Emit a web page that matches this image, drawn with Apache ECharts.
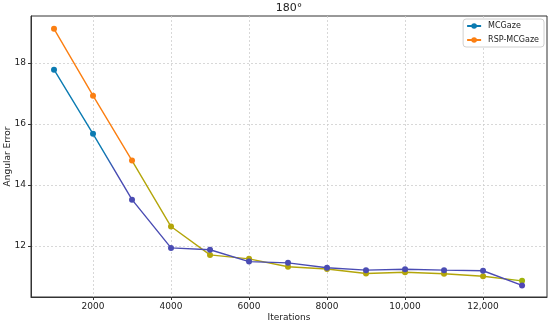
<!DOCTYPE html>
<html>
<head>
<meta charset="utf-8">
<script src="https://cdn.jsdelivr.net/npm/echarts@6/dist/echarts.min.js"></script>
<style>
  html, body { margin: 0; padding: 0; background: #fff; }
  #container { width: 550px; height: 325px; }
</style>
</head>
<body>
<div id="container"></div>
<script>
const iterations = [1000, 2000, 3000, 4000, 5000, 6000, 7000, 8000, 9000, 10000, 11000, 12000, 13000];
const mcgaze = [17.78, 15.68, 13.52, 11.94, 11.88, 11.49, 11.45, 11.29, 11.21, 11.24, 11.21, 11.19, 10.71];
const rspMcgaze = [19.12, 16.93, 14.80, 12.64, 11.71, 11.58, 11.32, 11.25, 11.10, 11.14, 11.09, 11.01, 10.86];
const xTicks = [2000, 4000, 6000, 8000, 10000, 12000];
const yTicks = [12, 14, 16, 18];

const font = "DejaVu Sans";

function pairs(ys) {
  return iterations.map((x, i) => [x, ys[i]]);
}

const mcgColors = ["#0b7bb2", "#0b7bb2", "#4a4cb3", "#4a4cb3", "#4a4cb3", "#4a4cb3", "#4a4cb3",
  "#4a4cb3", "#4a4cb3", "#4a4cb3", "#4a4cb3", "#4a4cb3", "#4f45b5"];
const rspColors = ["#fb7f12", "#fb7f12", "#fb7f12", "#b3a50a", "#b3a50a", "#b3a50a", "#b3a50a",
  "#b3a50a", "#b3a50a", "#b3a50a", "#b3a50a", "#b3a50a", "#9fb30a"];

const chart = echarts.init(document.getElementById("container"));

const option = {
  animation: false,
  title: {
    text: "180°",
    left: 289,
    textAlign: "center",
    top: 3,
    padding: 0,
    textStyle: { fontFamily: font, fontSize: 11, fontWeight: "normal", color: "#222" }
  },
  legend: {
    right: 6,
    top: 19,
    orient: "vertical",
    itemWidth: 14,
    itemHeight: 7,
    itemGap: 6,
    padding: [3, 5, 3, 3],
    backgroundColor: "#fff",
    borderColor: "#d0d0d0",
    borderWidth: 1,
    borderRadius: 3,
    textStyle: { fontFamily: font, fontSize: 8, color: "#222", padding: [0, 0, 0, 2] },
    data: [
      { name: "MCGaze", itemStyle: { color: "#0b7bb2" }, lineStyle: { color: "#0b7bb2" } },
      { name: "RSP-MCGaze", itemStyle: { color: "#fb7f12" }, lineStyle: { color: "#fb7f12" } }
    ]
  },
  grid: {
    left: 31,
    right: 3,
    top: 16,
    bottom: 28,
    outerBoundsMode: "none",
    containLabel: false,
    show: true,
    borderColor: "#333",
    borderWidth: 1
  },
  xAxis: {
    type: "value",
    min: 410,
    max: 13640,
    name: "Iterations",
    nameLocation: "middle",
    nameGap: 16,
    nameMoveOverlap: false,
    nameTextStyle: { fontFamily: font, fontSize: 9, color: "#222" },
    axisLine: { show: true, lineStyle: { color: "#333" } },
    axisTick: { show: true, length: 3, customValues: xTicks, lineStyle: { color: "#333" } },
    axisLabel: {
      customValues: xTicks,
      fontFamily: font,
      fontSize: 9,
      color: "#222",
      margin: 5,
      formatter: v => v >= 10000 ? v.toLocaleString("en-US") : String(v)
    },
    splitLine: { show: true, lineStyle: { color: "#cfcfcf", type: [2, 2], width: 0.8 } }
  },
  yAxis: {
    type: "value",
    min: 10.33,
    max: 19.54,
    name: "Angular Error",
    nameLocation: "middle",
    nameGap: 19,
    nameMoveOverlap: false,
    nameTextStyle: { fontFamily: font, fontSize: 9, color: "#222" },
    axisLine: { show: true, lineStyle: { color: "#333" } },
    axisTick: { show: true, length: 3, customValues: yTicks, lineStyle: { color: "#333" } },
    axisLabel: {
      customValues: yTicks,
      fontFamily: font,
      fontSize: 9,
      color: "#222",
      margin: 5
    },
    splitLine: { show: true, lineStyle: { color: "#cfcfcf", type: [2, 2], width: 0.8 } }
  },
  series: [
    {
      name: "MCGaze",
      type: "line",
      data: pairs(mcgaze),
      symbol: "circle",
      symbolSize: 6,
      z: 3,
      lineStyle: {
        width: 1.4,
        color: new echarts.graphic.LinearGradient(0, 0, 1, 0, [
          { offset: 0, color: "#0b7bb2" },
          { offset: 0.11, color: "#0b7bb2" },
          { offset: 0.135, color: "#4a4cb3" },
          { offset: 0.92, color: "#4a4cb3" },
          { offset: 1, color: "#5045b5" }
        ])
      },
      itemStyle: { color: p => mcgColors[p.dataIndex] }
    },
    {
      name: "RSP-MCGaze",
      type: "line",
      data: pairs(rspMcgaze),
      symbol: "circle",
      symbolSize: 6,
      z: 2,
      lineStyle: {
        width: 1.4,
        color: new echarts.graphic.LinearGradient(0, 0, 1, 0, [
          { offset: 0, color: "#fb7f12" },
          { offset: 0.165, color: "#fb7f12" },
          { offset: 0.175, color: "#b3a50a" },
          { offset: 0.92, color: "#b3a50a" },
          { offset: 1, color: "#9fb30a" }
        ])
      },
      itemStyle: { color: p => rspColors[p.dataIndex] }
    }
  ]
};

chart.setOption(option);
</script>
</body>
</html>
